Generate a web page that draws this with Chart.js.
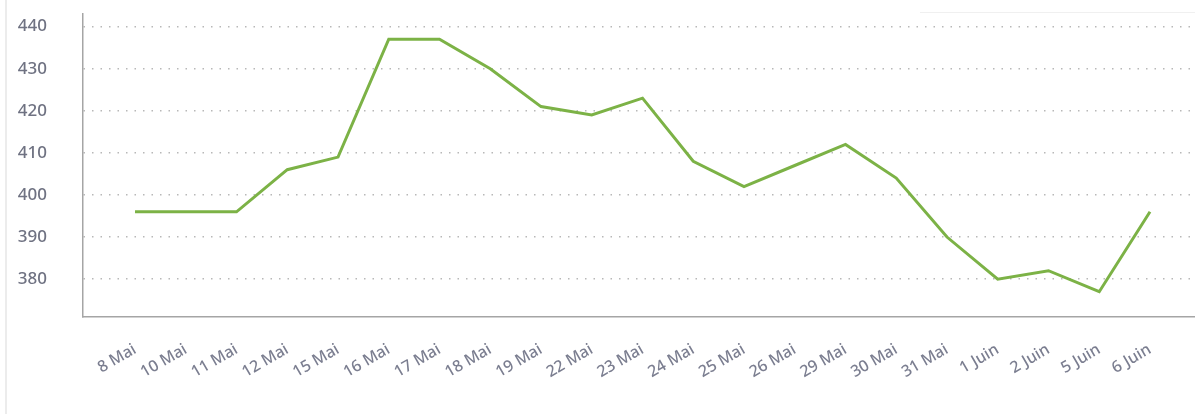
<!DOCTYPE html>
<html>
<head>
<meta charset="utf-8">
<script src="https://cdn.jsdelivr.net/npm/chart.js@4"></script>
<style>
  html, body { margin: 0; padding: 0; background: #fff; }
  #wrap { position: relative; width: 1195px; height: 414px; }
  #edge { position: absolute; left: 5px; top: 0; width: 2px; height: 414px; background: #ececec; }
  #haut { position: absolute; left: 920px; top: 12px; width: 275px; height: 1px; background: #f0f0f0; }
</style>
</head>
<body>
<div id="wrap">
  <div id="edge"></div>
  <div id="haut"></div>
  <canvas id="courbe" width="1195" height="414" style="position:relative"></canvas>
</div>
<script>
// dates (categories)
var jours = ['8 Mai', '10 Mai', '11 Mai', '12 Mai', '15 Mai', '16 Mai', '17 Mai', '18 Mai', '19 Mai', '22 Mai',
  '23 Mai', '24 Mai', '25 Mai', '26 Mai', '29 Mai', '30 Mai', '31 Mai', '1 Juin', '2 Juin', '5 Juin', '6 Juin'];
// values
var valeurs = [396, 396, 396, 406, 409, 437, 437, 430, 421, 419,
  423, 408, 402, 407, 412, 404, 390, 380, 382, 377, 396];
// y tick labels
var graduations = [380, 390, 400, 410, 420, 430, 440];

var points = valeurs.map(function (v, i) { return { x: i, y: v }; });

var ctx = document.getElementById('courbe').getContext('2d');
var graphe = new Chart(ctx, {
  type: 'line',
  data: {
    datasets: [{
      data: points,
      borderColor: '#7cb246',
      borderWidth: 3,
      pointRadius: 0,
      tension: 0,
      fill: false
    }]
  },
  options: {
    responsive: false,
    animation: false,
    layout: { padding: { top: 14, right: 0, left: 0, bottom: 0 } },
    plugins: { legend: { display: false }, tooltip: { enabled: false } },
    scales: {
      x: {
        type: 'linear',
        min: -1.025,
        max: 20.887,
        afterBuildTicks: function (scale) {
          scale.ticks = jours.map(function (j, i) { return { value: i }; });
        },
        afterFit: function (scale) {
          scale.height = 97;
          scale.paddingLeft = 0;
          scale.paddingRight = 0;
        },
        grid: { display: false, drawTicks: false },
        border: { display: true, color: '#a5a5a5', width: 1.5 },
        ticks: {
          autoSkip: false,
          minRotation: 30,
          maxRotation: 30,
          padding: 23,
          color: '#7b7e90',
          font: { family: 'Noto Sans', size: 16, weight: '500' },
          callback: function (v) { return jours[v]; }
        }
      },
      y: {
        min: 371,
        max: 443,
        afterBuildTicks: function (scale) {
          scale.ticks = graduations.map(function (g) { return { value: g }; });
        },
        afterFit: function (scale) {
          scale.width = 83;
          scale.paddingTop = 0;
          scale.paddingBottom = 0;
        },
        grid: {
          drawTicks: false,
          color: '#b8b8b8',
          lineWidth: 1.5
        },
        border: { display: true, color: '#a5a5a5', width: 1.5, dash: [1.5, 7] },
        ticks: {
          padding: 36,
          color: '#6f7282',
          font: { family: 'Noto Sans', size: 17, weight: '500' }
        }
      }
    }
  }
});
</script>
</body>
</html>
